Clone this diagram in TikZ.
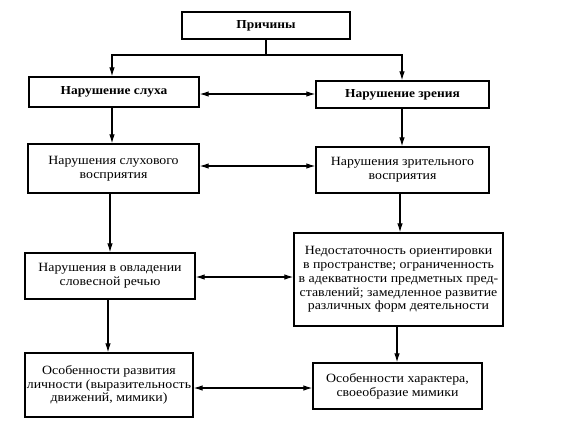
\documentclass[tikz,border=0pt]{standalone}
\usepackage{fontspec}
\setmainfont{Liberation Serif}[FakeStretch=1.1]
\usetikzlibrary{arrows.meta}
\begin{document}
\begin{tikzpicture}[x=1pt,y=-1pt,
  box/.style={draw, line width=1.3pt, inner sep=0pt, align=center,
    font=\fontsize{12.6}{13.8}\selectfont},
  bbox/.style={box, font=\fontsize{12.2}{13.5}\selectfont\bfseries},
  arr/.style={line width=1.1pt, -{Latex[length=9pt,width=5.5pt]}},
  dbl/.style={line width=1.1pt, {Latex[length=9pt,width=5.5pt]}-{Latex[length=9pt,width=5.5pt]}},
  ln/.style={line width=1.1pt}]
\useasboundingbox (0,0) rectangle (575,434);
\node[bbox, minimum width=168pt, minimum height=27pt] (top) at (266,25.5) {Причины};
\node[bbox, minimum width=170pt, minimum height=30pt] (L1) at (114,92) {Нарушение слуха};
\node[bbox, minimum width=173pt, minimum height=27pt] (R1) at (402.5,94.5) {Нарушение зрения};
\node[box, minimum width=171pt, minimum height=49pt] (L2) at (113.5,168.5) {Нарушения слухового\\восприятия};
\node[box, minimum width=173pt, minimum height=46pt] (R2) at (402.5,170) {Нарушения зрительного\\восприятия};
\node[box, minimum width=170pt, minimum height=46pt] (L3) at (110,276) {Нарушения в овладении\\словесной речью};
\node[box, minimum width=209pt, minimum height=93pt] (R3) at (398.5,279.5) {Недостаточность ориентировки\\в пространстве; ограниченность\\в адекватности предметных пред-\\ставлений; замедленное развитие\\различных форм деятельности};
\node[box, minimum width=168pt, minimum height=64pt] (L4) at (109,385) {Особенности развития\\личности (выразительность\\движений, мимики)};
\node[box, minimum width=169pt, minimum height=46pt] (R4) at (397.5,386) {Особенности характера,\\своеобразие мимики};
% top fork
\coordinate (j) at (266,55);
\draw[ln] (top.south) -- (j);
\draw[arr] (j) -| (L1.north -| 112,0);
\draw[arr] (j) -| (R1.north -| 402,0);
% vertical arrows
\draw[arr] (L1.south -| 112,0) -- (L2.north -| 112,0);
\draw[arr] (L2.south -| 110,0) -- (L3.north -| 110,0);
\draw[arr] (L3.south -| 108,0) -- (L4.north -| 108,0);
\draw[arr] (R1.south -| 402,0) -- (R2.north -| 402,0);
\draw[arr] (R2.south -| 400,0) -- (R3.north -| 400,0);
\draw[arr] (R3.south -| 397,0) -- (R4.north -| 397,0);
% horizontal double arrows
\draw[dbl] (L1.east |- 0,94) -- (R1.west |- 0,94);
\draw[dbl] (L2.east |- 0,166) -- (R2.west |- 0,166);
\draw[dbl] (L3.east |- 0,277) -- (R3.west |- 0,277);
\draw[dbl] (L4.east |- 0,388) -- (R4.west |- 0,388);
\end{tikzpicture}
\end{document}
